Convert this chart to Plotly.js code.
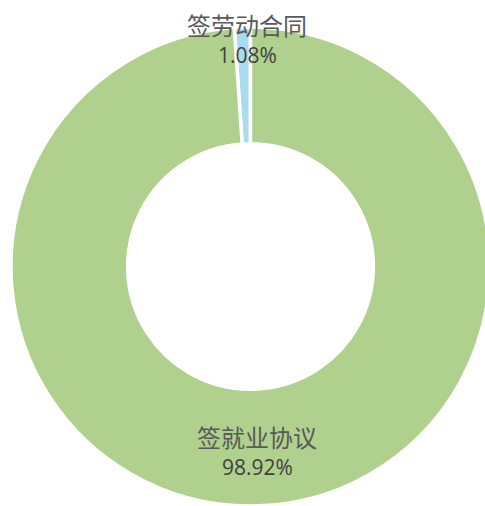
<!DOCTYPE html>
<html><head><meta charset="utf-8">
<script src="https://cdn.plot.ly/plotly-3.0.1.min.js"></script>
<style>html,body{margin:0;padding:0;overflow:hidden;background:#fff;width:485px;height:506px}#c{width:490px;height:506px}</style>
</head><body><div id="c"></div>
<script>
const labels = ['签劳动合同', '签就业协议'];
const values = [1.08, 98.92];
const colors = ['#A9DCF0', '#B0D08D'];
// label anchor positions (px) for name line and value line
const namePos = [[247, 24], [257, 436]];
const valPos = [[247, 55], [257, 467]];

const L = 11, T = 27, W = 490, H = 506, B = 0, R = 0;
const pw = W - L - R, ph = H - T - B;
const px = x => (x - L) / pw;
const py = y => (H - B - y) / ph;

const annotations = [];
labels.forEach((lab, i) => {
  annotations.push({xref: 'paper', yref: 'paper', x: px(namePos[i][0]), y: py(namePos[i][1]),
    text: lab, showarrow: false, xanchor: 'center', yanchor: 'middle',
    font: {family: 'Noto Sans CJK SC, sans-serif', size: 24, color: '#595959'}});
  annotations.push({xref: 'paper', yref: 'paper', x: px(valPos[i][0]), y: py(valPos[i][1]),
    text: values[i].toFixed(2) + '%', showarrow: false, xanchor: 'center', yanchor: 'middle',
    font: {family: 'Open Sans, sans-serif', size: 21, color: '#404040'}});
});

Plotly.newPlot('c', [{
  type: 'pie', labels: labels, values: values, hole: 0.513, sort: false,
  direction: 'clockwise', rotation: -3.888, textinfo: 'none', hoverinfo: 'none',
  marker: {colors: colors, line: {color: '#ffffff', width: 3.5}}
}], {
  width: W, height: H, showlegend: false,
  margin: {l: L, r: R, t: T, b: B, pad: 0},
  paper_bgcolor: '#ffffff', plot_bgcolor: '#ffffff',
  annotations: annotations
}, {staticPlot: true, displayModeBar: false});
</script></body></html>
